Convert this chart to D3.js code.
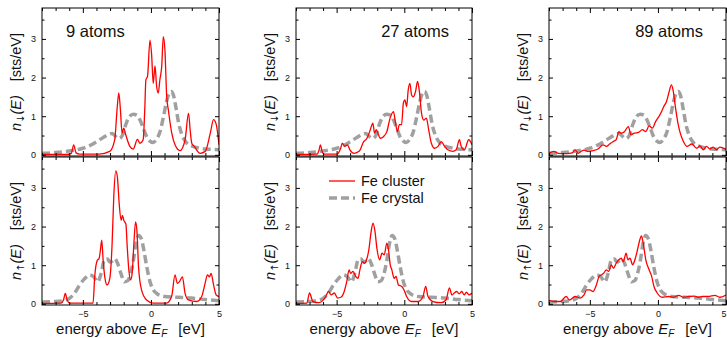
<!DOCTYPE html>
<html>
<head>
<meta charset="utf-8">
<script src="https://cdn.jsdelivr.net/npm/d3@7"></script>
<style>
  body { margin: 0; background: #fff; }
  svg { display: block; font-family: "Liberation Sans", Arial, sans-serif; }
</style>
</head>
<body>
<script>
// energy axis and tick values
const energyTicks = [-5, 0, 5];
const energyMinor = [-8, -7, -6, -4, -3, -2, -1, 1, 2, 3, 4];
const dosTicks = [0, 1, 2, 3];
const dosMinor = [0.5, 1.5, 2.5, 3.5];
const titles = ['9 atoms', '27 atoms', '89 atoms'];
const legendLabels = ['Fe cluster', 'Fe crystal'];

// bulk Fe reference DOS [E, n]
const crystalDown = [[-8,0.04],[-7,0.06],[-6,0.1],[-5,0.17],[-4.5,0.24],[-4,0.34],[-3.5,0.45],[-3.1,0.53],[-2.85,0.55],[-2.6,0.48],[-2.35,0.42],[-2.1,0.5],[-1.85,0.78],[-1.6,0.98],[-1.3,1.05],[-1.05,1.03],[-0.8,0.9],[-0.55,0.68],[-0.3,0.46],[-0.05,0.35],[0.15,0.32],[0.4,0.4],[0.65,0.58],[0.9,0.95],[1.15,1.38],[1.35,1.6],[1.5,1.64],[1.65,1.55],[1.85,1.2],[2.05,0.8],[2.3,0.5],[2.6,0.32],[3.0,0.23],[3.5,0.18],[4,0.15],[4.5,0.14],[5,0.13]];
const crystalUp = [[-8,0.05],[-7,0.06],[-6.5,0.08],[-6,0.14],[-5.6,0.28],[-5.25,0.48],[-4.9,0.64],[-4.5,0.75],[-4.2,0.7],[-3.9,0.57],[-3.65,0.8],[-3.4,1.15],[-3.2,1.16],[-3.0,1.08],[-2.8,1.12],[-2.65,1.17],[-2.45,1.05],[-2.2,0.78],[-1.95,0.57],[-1.7,0.6],[-1.5,0.78],[-1.3,1.1],[-1.1,1.55],[-0.9,1.77],[-0.7,1.68],[-0.5,1.35],[-0.3,0.95],[-0.05,0.55],[0.2,0.35],[0.5,0.25],[1,0.19],[2,0.17],[3,0.15],[4,0.11],[5,0.08]];

// cluster DOS [E, n]
const cluster9Down = [[-8,0.01],[-6.2,0.01],[-5.85,0.04],[-5.67,0.26],[-5.5,0.05],[-5.25,0.02],[-3.8,0.02],[-3.03,0.09],[-2.66,0.39],[-2.49,1.16],[-2.36,1.6],[-2.24,1.16],[-2.12,0.56],[-2.0,0.69],[-1.85,0.52],[-1.55,0.22],[-1.3,0.15],[-0.99,0.4],[-0.81,0.3],[-0.57,0.39],[-0.45,1.2],[-0.37,1.94],[-0.25,2.03],[-0.07,2.97],[0.05,2.6],[0.17,1.85],[0.3,2.3],[0.42,1.77],[0.54,1.6],[0.66,1.95],[0.79,2.28],[0.91,3.06],[1.03,2.7],[1.16,1.5],[1.28,1.16],[1.53,0.56],[1.77,0.26],[2.14,0.11],[2.51,0.39],[2.76,1.08],[2.88,0.65],[3.0,0.3],[3.18,0.22],[3.62,0.04],[3.99,0.09],[4.36,0.56],[4.6,0.91],[4.8,0.78],[5,0.26]];
const cluster9Up = [[-8,0.01],[-6.6,0.02],[-6.42,0.1],[-6.29,0.27],[-6.15,0.1],[-5.97,0.02],[-4.25,0.02],[-4.13,0.7],[-3.93,1.13],[-3.81,1.17],[-3.71,1.39],[-3.61,1.65],[-3.51,1.13],[-3.39,0.7],[-3.22,0.49],[-3.02,0.66],[-2.85,1.56],[-2.73,2.76],[-2.58,3.44],[-2.46,3.27],[-2.33,2.59],[-2.19,2.16],[-2.09,2.29],[-1.99,2.16],[-1.84,2.07],[-1.74,1.47],[-1.62,0.87],[-1.5,0.62],[-1.38,0.79],[-1.25,1.56],[-1.13,2.12],[-1.03,1.9],[-0.91,0.96],[-0.69,0.36],[-0.32,0.1],[0.17,0.02],[1.15,0.02],[1.52,0.19],[1.77,0.75],[1.94,0.53],[2.09,0.57],[2.31,0.7],[2.51,0.27],[2.75,0.1],[3.37,0.06],[3.73,0.19],[3.98,0.53],[4.15,0.75],[4.3,0.7],[4.42,0.79],[4.6,0.49],[4.79,0.23],[5,0.19]];
const cluster27Down = [[-8,0.01],[-6.45,0.02],[-6.3,0.12],[-6.2,0.26],[-6.08,0.1],[-5.95,0.02],[-4.95,0.02],[-4.7,0.17],[-4.58,0.3],[-4.39,0.22],[-4.2,0.26],[-4.02,0.13],[-3.7,0.04],[-3.34,0.09],[-3.0,0.34],[-2.76,0.43],[-2.56,0.6],[-2.44,0.73],[-2.32,0.82],[-2.2,0.56],[-2.07,0.65],[-1.95,0.56],[-1.78,0.43],[-1.54,0.47],[-1.29,0.6],[-1.05,0.95],[-0.8,1.12],[-0.68,0.9],[-0.51,0.6],[-0.37,0.78],[-0.2,0.78],[-0.07,1.34],[0.05,1.42],[0.17,1.25],[0.29,1.68],[0.41,1.85],[0.54,1.55],[0.66,1.5],[0.83,1.64],[0.98,1.9],[1.1,1.68],[1.27,1.08],[1.44,0.9],[1.63,0.95],[1.8,0.65],[2.0,0.3],[2.24,0.17],[2.49,0.22],[2.73,0.34],[2.98,0.22],[3.22,0.13],[3.59,0.09],[3.83,0.13],[4.07,0.39],[4.2,0.22],[4.44,0.13],[4.76,0.39],[5,0.26]];
const cluster27Up = [[-8,0.01],[-7.2,0.02],[-7.0,0.28],[-6.75,0.06],[-6.3,0.03],[-5.8,0.19],[-5.6,0.32],[-5.4,0.23],[-5.17,0.28],[-4.93,0.15],[-4.68,0.17],[-4.44,0.32],[-4.25,0.58],[-4.08,0.88],[-3.96,0.79],[-3.79,0.84],[-3.59,0.71],[-3.42,0.66],[-3.28,0.88],[-3.1,1.09],[-2.94,1.05],[-2.79,1.14],[-2.62,1.4],[-2.45,1.87],[-2.31,2.09],[-2.18,1.91],[-2.01,1.4],[-1.82,1.14],[-1.65,1.31],[-1.48,1.27],[-1.29,1.57],[-1.17,1.4],[-1.04,1.01],[-0.92,0.88],[-0.75,0.66],[-0.61,0.71],[-0.44,0.49],[-0.19,0.45],[-0.02,0.36],[0.17,0.19],[0.53,0.06],[1.02,0.06],[1.38,0.19],[1.58,0.45],[1.75,0.19],[2.11,0.06],[2.72,0.03],[3.08,0.1],[3.33,0.41],[3.52,0.23],[3.69,0.28],[3.86,0.32],[4.05,0.26],[4.25,0.32],[4.42,0.23],[4.59,0.3],[4.78,0.23],[5,0.28]];
const cluster89Down = [[-8,0.03],[-7.66,0.09],[-7.3,0.04],[-6.69,0.03],[-6.3,0.05],[-6.09,0.13],[-5.85,0.04],[-5.6,0.1],[-5.43,0.12],[-5.12,0.09],[-4.76,0.11],[-4.4,0.15],[-4.03,0.26],[-3.79,0.22],[-3.55,0.28],[-3.31,0.34],[-3.07,0.39],[-2.87,0.6],[-2.7,0.56],[-2.46,0.6],[-2.17,0.73],[-1.98,0.52],[-1.74,0.56],[-1.43,0.58],[-1.14,0.65],[-0.89,0.6],[-0.65,0.75],[-0.41,0.69],[-0.17,0.86],[0.07,0.99],[0.27,1.12],[0.43,1.25],[0.63,1.38],[0.8,1.6],[0.99,1.81],[1.11,1.68],[1.28,1.25],[1.47,0.82],[1.64,0.56],[1.88,0.34],[2.13,0.22],[2.49,0.28],[2.85,0.17],[3.09,0.23],[3.33,0.13],[3.57,0.22],[3.82,0.15],[4.06,0.2],[4.3,0.13],[4.54,0.2],[5,0.14]];
const cluster89Up = [[-8,0.09],[-7.66,0.06],[-7.17,0.06],[-6.74,0.19],[-6.5,0.1],[-6.09,0.19],[-5.72,0.15],[-5.43,0.23],[-5.24,0.36],[-5.0,0.36],[-4.76,0.32],[-4.52,0.49],[-4.32,0.71],[-4.15,0.75],[-3.99,0.79],[-3.79,0.88],[-3.62,0.84],[-3.43,1.01],[-3.26,0.92],[-3.07,1.05],[-2.87,1.14],[-2.7,1.18],[-2.54,1.09],[-2.34,1.31],[-2.2,1.14],[-2.05,1.18],[-1.86,1.01],[-1.69,1.14],[-1.5,1.4],[-1.33,1.66],[-1.21,1.76],[-1.09,1.59],[-0.89,1.14],[-0.65,0.88],[-0.46,0.71],[-0.29,0.45],[-0.05,0.28],[0.31,0.17],[0.8,0.19],[1.16,0.17],[1.52,0.22],[1.88,0.17],[2.25,0.19],[2.68,0.2],[2.97,0.17],[3.26,0.19],[3.7,0.19],[4.18,0.22],[4.54,0.17],[5,0.23]];

const width = 727;
const height = 338;
const cols = [[42, 219], [296, 472], [549, 726]];
const rows = [[8, 156], [157, 305]];
const red = '#ff0000';
const grey = '#a0a0a0';

const panels = [
  { col: 0, row: 0, cluster: cluster9Down, crystal: crystalDown, spin: '\u2193' },
  { col: 1, row: 0, cluster: cluster27Down, crystal: crystalDown, spin: '\u2193' },
  { col: 2, row: 0, cluster: cluster89Down, crystal: crystalDown, spin: '\u2193' },
  { col: 0, row: 1, cluster: cluster9Up, crystal: crystalUp, spin: '\u2191' },
  { col: 1, row: 1, cluster: cluster27Up, crystal: crystalUp, spin: '\u2191' },
  { col: 2, row: 1, cluster: cluster89Up, crystal: crystalUp, spin: '\u2191' }
];

const svg = d3.select('body').append('svg')
  .attr('width', width)
  .attr('height', height);

svg.append('rect').attr('width', width).attr('height', height).attr('fill', '#fff');

panels.forEach((p, i) => {
  const [c0, c1] = cols[p.col];
  const [r0, r1] = rows[p.row];
  const x = d3.scaleLinear().domain([-8, 5]).range([c0, c1]);
  const y = d3.scaleLinear().domain([-0.03, 3.8]).range([r1, r0]);

  const g = svg.append('g');

  g.append('clipPath').attr('id', 'clip' + i)
    .append('rect').attr('x', c0).attr('y', r0).attr('width', c1 - c0).attr('height', r1 - r0);

  const line = d3.line()
    .x(d => x(d[0]))
    .y(d => y(d[1]))
    .curve(d3.curveMonotoneX);

  const plot = g.append('g').attr('clip-path', `url(#clip${i})`);
  plot.append('path')
    .attr('d', line(p.crystal))
    .attr('fill', 'none')
    .attr('stroke', grey)
    .attr('stroke-width', 3.5)
    .attr('stroke-dasharray', '8,4');
  plot.append('path')
    .attr('d', line(p.cluster))
    .attr('fill', 'none')
    .attr('stroke', red)
    .attr('stroke-width', 1.3);

  // ticks, all pointing inward
  const axes = [
    [d3.axisLeft(y).tickValues(dosTicks).tickSize(-4).tickPadding(6).tickFormat(d3.format('d')), `translate(${c0},0)`],
    [d3.axisLeft(y).tickValues(dosMinor).tickSize(-2.5).tickFormat(''), `translate(${c0},0)`],
    [d3.axisRight(y).tickValues(dosTicks).tickSize(-4).tickFormat(''), `translate(${c1},0)`],
    [d3.axisRight(y).tickValues(dosMinor).tickSize(-2.5).tickFormat(''), `translate(${c1},0)`],
    [d3.axisTop(x).tickValues(energyTicks).tickSize(-5).tickFormat(''), `translate(0,${r0})`],
    [d3.axisTop(x).tickValues(energyMinor).tickSize(-3).tickFormat(''), `translate(0,${r0})`],
    [d3.axisBottom(x).tickValues(energyTicks).tickSize(-5).tickPadding(6)
      .tickFormat(p.row === 1 ? d3.format('d') : ''), `translate(0,${r1})`],
    [d3.axisBottom(x).tickValues(energyMinor).tickSize(-3).tickFormat(''), `translate(0,${r1})`]
  ];
  axes.forEach(([ax, tr]) => {
    const a = g.append('g').attr('transform', tr).call(ax);
    a.select('.domain').remove();
    a.selectAll('line').attr('stroke', '#000');
    a.selectAll('text').attr('font-size', 9).attr('fill', '#111')
      .attr('font-family', '"Liberation Sans", Arial, sans-serif');
  });
  // last energy label of the right column sits on the page edge
  if (p.col === 2 && p.row === 1) {
    g.selectAll('.tick text').filter(d => d === 5).attr('text-anchor', 'end').attr('dx', 0);
  }

  g.append('rect')
    .attr('x', c0).attr('y', r0)
    .attr('width', c1 - c0).attr('height', r1 - r0)
    .attr('fill', 'none').attr('stroke', '#000').attr('stroke-width', 1);

  // y label
  const yl = g.append('text')
    .attr('transform', `translate(${c0 - 21},${(r0 + r1) / 2}) rotate(-90)`)
    .attr('text-anchor', 'middle')
    .attr('font-size', 14.5)
    .attr('fill', '#111');
  yl.append('tspan').attr('font-style', 'italic').text('n');
  yl.append('tspan').attr('font-size', 10).attr('font-family', '"DejaVu Sans", sans-serif')
    .attr('dy', 3).text(p.spin);
  yl.append('tspan').attr('font-style', 'italic').attr('dy', -3).text('(E)');
  yl.append('tspan').attr('dx', 14).text('[sts/eV]');

  if (p.row === 0) {
    const t = g.append('text')
      .attr('y', 37)
      .attr('font-size', 16.5)
      .attr('fill', '#111')
      .text(titles[p.col]);
    if (p.col === 0) t.attr('x', c0 + 24);
    else t.attr('x', c1 - 23).attr('text-anchor', 'end');
  } else {
    const xl = g.append('text')
      .attr('x', (c0 + c1) / 2)
      .attr('y', 334)
      .attr('text-anchor', 'middle')
      .attr('font-size', 15)
      .attr('fill', '#111');
    xl.append('tspan').text('energy above ');
    xl.append('tspan').attr('font-style', 'italic').text('E');
    xl.append('tspan').attr('font-size', 10).attr('dy', 3).attr('font-style', 'italic').text('F');
    xl.append('tspan').attr('dy', -3).attr('dx', 11).text('[eV]');
  }

  if (p.col === 1 && p.row === 1) {
    const lg = g.append('g');
    [[red, 1.3, null], [grey, 3.5, '8,4']].forEach(([col, sw, dash], k) => {
      lg.append('line')
        .attr('x1', 329).attr('x2', 355)
        .attr('y1', 181 + k * 17).attr('y2', 181 + k * 17)
        .attr('stroke', col).attr('stroke-width', sw)
        .attr('stroke-dasharray', dash);
      lg.append('text')
        .attr('x', 361).attr('y', 186 + k * 17)
        .attr('font-size', 14.5).attr('fill', '#111')
        .text(legendLabels[k]);
    });
  }
});
</script>
</body>
</html>
